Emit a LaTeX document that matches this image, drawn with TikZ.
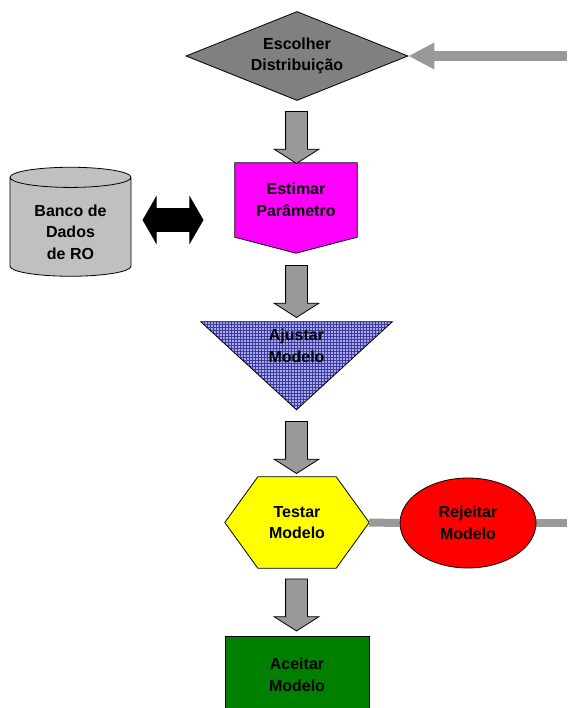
\documentclass[tikz,border=0pt]{standalone}
\usepackage{fontspec}
\setmainfont{Liberation Sans}
\usetikzlibrary{shapes,arrows.meta,positioning,patterns,backgrounds}

\definecolor{cinza}{HTML}{999999}
\definecolor{cinzaesc}{HTML}{808080}
\definecolor{prata}{HTML}{C0C0C0}
\definecolor{verde}{HTML}{008000}
\definecolor{rosa}{HTML}{FF00FF}
\definecolor{amarelo}{HTML}{FFFF00}
\definecolor{vermelho}{HTML}{FF0000}
\definecolor{azul}{RGB}{170,170,235}
\definecolor{azulesc}{RGB}{60,60,160}

\begin{document}
\begin{tikzpicture}[
    x=1pt, y=-1pt,
    every node/.style={font=\fontsize{16}{21.5}\selectfont\bfseries, align=center, inner sep=0pt},
    caixa/.style={draw, line width=0.8pt},
    seta/.style={single arrow, draw, line width=0.8pt, fill=cinza, shape border rotate=270, inner sep=10.5pt,
        minimum height=52pt, minimum width=44pt, single arrow head extend=11.5pt, single arrow tip angle=115},
    linha/.style={draw=cinza, line width=8pt}
]
    \useasboundingbox (0,0) rectangle (567,708);

    \node[caixa, diamond, fill=cinzaesc, aspect=2.5, minimum width=222pt, minimum height=89pt] (dist) at (297,56) {Escolher\\Distribuição};
    \node[seta] (s1) at (296.5,134) {};
    \node[minimum width=122pt, minimum height=74pt] (est) at (296,200) {Estimar\\Parâmetro};
    \node[caixa, cylinder, fill=prata, shape border rotate=90, aspect=0.28, text height=65pt,
        minimum height=109pt, minimum width=121pt] (banco) at (70.5,227) {Banco de\\Dados\\de RO};
    \node[caixa, double arrow, fill=black, inner sep=11pt, minimum height=60pt, minimum width=45pt, double arrow head extend=11.5pt, double arrow tip angle=120] (dupla) at (173,220) {};
    \node[seta] (s2) at (296.5,288) {};
    \node[minimum width=191pt, minimum height=48pt] (ajustar) at (296.5,346) {Ajustar\\Modelo};
    \node[seta] (s3) at (296.5,444) {};
    \node[minimum width=144pt, minimum height=91pt] (testar) at (297,522.5) {Testar\\Modelo};
    \node[caixa, ellipse, fill=vermelho, minimum width=136pt, minimum height=90pt] (rejeitar) at (468,523) {Rejeitar\\Modelo};
    \node[seta] (s4) at (296.5,601.5) {};
    \node[caixa, fill=verde, minimum width=144pt, minimum height=78pt] (aceitar) at (297,675) {Aceitar\\Modelo};

    % shapes behind the texts
    \begin{scope}[on background layer]
        \draw[caixa, fill=rosa] (est.north west) -- (est.north east) -- (est.south east)
            -- ([yshift=-16pt]est.south) -- (est.south west) -- cycle;
        \draw[caixa, preaction={fill=azul}, pattern=grid, pattern color=azulesc]
            (ajustar.north west) -- (ajustar.north east) -- ([yshift=-88pt]ajustar.north) -- cycle;
        \draw[caixa, fill=amarelo] (testar.west) -- ([xshift=33pt]testar.north west) -- ([xshift=-33pt]testar.north east)
            -- (testar.east) -- ([xshift=-33pt]testar.south east) -- ([xshift=33pt]testar.south west) -- cycle;
    \end{scope}

    \coordinate (entrada) at (567,56);
    \coordinate (saida) at (567,523);
    \draw[cinza, line width=10pt, -{Triangle[length=26pt,width=25pt]}] (entrada) -- (dist.east);
    \begin{scope}[on background layer]
        \draw[linha] (testar.east) -- (rejeitar.west);
        \draw[linha] (rejeitar.east) -- (saida);
    \end{scope}
\end{tikzpicture}
\end{document}
